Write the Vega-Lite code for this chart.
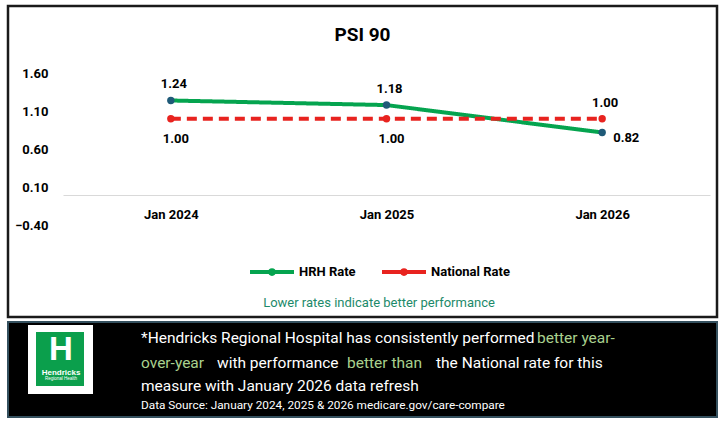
{
  "$schema": "https://vega.github.io/schema/vega-lite/v6.json",
  "padding": {"left": 6, "top": 4, "right": 0, "bottom": 0},
  "background": "white",
  "spacing": 2,
  "config": {
    "font": "Roboto, sans-serif"
  },
  "datasets": {
    "rates": [
      {"period": "Jan 2024", "series": "HRH Rate", "rate": 1.24},
      {"period": "Jan 2025", "series": "HRH Rate", "rate": 1.18},
      {"period": "Jan 2026", "series": "HRH Rate", "rate": 0.82},
      {"period": "Jan 2024", "series": "National Rate", "rate": 1.00},
      {"period": "Jan 2025", "series": "National Rate", "rate": 1.00},
      {"period": "Jan 2026", "series": "National Rate", "rate": 1.00}
    ],
    "logo": [
      {"part": "frame", "x1": 20, "x2": 85, "y1": 3, "y2": 72},
      {"part": "badge", "x1": 28, "x2": 76, "y1": 10, "y2": 64}
    ],
    "logotext": [
      {"text": "H", "x": 53, "y": 28, "kind": "big"},
      {"text": "Hendricks", "x": 53, "y": 51, "kind": "name"},
      {"text": "Regional Health", "x": 53, "y": 57, "kind": "sub"}
    ],
    "note": [
      {"text": "*Hendricks Regional Hospital  has consistently  performed", "x": 133, "y": 16, "tone": "plain", "kind": "main"},
      {"text": "better year-", "x": 529, "y": 16, "tone": "highlight", "kind": "main"},
      {"text": "over-year", "x": 133, "y": 41, "tone": "highlight", "kind": "main"},
      {"text": "with performance", "x": 209, "y": 41, "tone": "plain", "kind": "main"},
      {"text": "better  than", "x": 339, "y": 41, "tone": "highlight", "kind": "main"},
      {"text": "the National  rate for this", "x": 428, "y": 41, "tone": "plain", "kind": "main"},
      {"text": "measure with January 2026 data refresh", "x": 133, "y": 64, "tone": "plain", "kind": "main"},
      {"text": "Data Source: January 2024, 2025 & 2026 medicare.gov/care-compare", "x": 133, "y": 83, "tone": "plain", "kind": "source"}
    ]
  },
  "resolve": {"scale": {"color": "independent", "fill": "independent", "x": "independent", "y": "independent"}},
  "vconcat": [
    {
      "width": 709,
      "height": 311,
      "view": {"stroke": "#1a1a1a", "strokeWidth": 2.5},
      "title": {
        "text": "PSI 90",
        "orient": "top",
        "anchor": "middle",
        "frame": "group",
        "offset": -54,
        "baseline": "alphabetic",
        "fontSize": 19,
        "fontWeight": "bold",
        "color": "black"
      },
      "data": {"name": "rates"},
      "encoding": {
        "x": {
          "field": "period",
          "type": "ordinal",
          "scale": {"type": "point", "range": [55, 702], "padding": 0.5},
          "axis": {
            "title": null,
            "orient": "bottom",
            "offset": -122,
            "labelAngle": 0,
            "ticks": false,
            "tickSize": 0,
            "domainColor": "#d9d9d9",
            "domainWidth": 1,
            "labelPadding": 13,
            "labelFontSize": 13,
            "labelFontWeight": "bold",
            "labelColor": "black",
            "grid": false
          }
        },
        "y": {
          "field": "rate",
          "type": "quantitative",
          "scale": {"domain": [-1.601, 2.48], "nice": false, "zero": false},
          "axis": {
            "title": null,
            "orient": "left",
            "offset": -40,
            "values": [-0.4, 0.1, 0.6, 1.1, 1.6],
            "format": ".2f",
            "ticks": false,
            "tickSize": 0,
            "domain": false,
            "grid": false,
            "labelPadding": 0,
            "labelFontSize": 13,
            "labelFontWeight": "bold",
            "labelColor": "black"
          }
        }
      },
      "layer": [
        {
          "mark": {"type": "line", "strokeWidth": 4},
          "encoding": {
            "color": {
              "field": "series",
              "type": "nominal",
              "title": "Lower rates indicate better performance",
              "scale": {"domain": ["HRH Rate", "National Rate"], "range": ["#05a44f", "#e8231f"]},
              "legend": {
                "orient": "none",
                "legendX": 240,
                "legendY": 242,
                "direction": "horizontal",
                "titleOrient": "bottom",
                "titleAnchor": "middle",
                "titlePadding": 15,
                "titleColor": "#1d8a6a",
                "titleFontWeight": "normal",
                "titleFontSize": 13,
                "titleLimit": 400,
                "labelFontSize": 13,
                "labelFontWeight": "bold",
                "labelColor": "black",
                "labelOffset": 3,
                "columnPadding": 18,
                "symbolType": "M-1,0L1,0M-0.08,0A0.08,0.08,0,1,0,0.08,0A0.08,0.08,0,1,0,-0.08,0Z",
                "symbolSize": 1936,
                "symbolStrokeWidth": 4,
                "encode": {
                  "symbols": {
                    "update": {
                      "fill": {"signal": "datum.value === 'HRH Rate' ? '#1f5a78' : '#e8231f'"}
                    }
                  }
                }
              }
            },
            "strokeDash": {
              "field": "series",
              "type": "nominal",
              "title": "Lower rates indicate better performance",
              "scale": {"domain": ["HRH Rate", "National Rate"], "range": [[1, 0], [10, 6]]}
            }
          }
        },
        {
          "mark": {"type": "point", "filled": true, "size": 55, "opacity": 1},
          "encoding": {
            "fill": {
              "field": "series",
              "type": "nominal",
              "scale": {"domain": ["HRH Rate", "National Rate"], "range": ["#1f5a78", "#e8231f"]},
              "legend": null
            }
          }
        },
        {
          "transform": [{"filter": "(datum.series === 'HRH Rate' && datum.period !== 'Jan 2026') || (datum.series === 'National Rate' && datum.period === 'Jan 2026')"}],
          "mark": {"type": "text", "dy": -16, "dx": 3, "fontSize": 13, "fontWeight": "bold", "color": "black"},
          "encoding": {"text": {"field": "rate", "type": "quantitative", "format": ".2f"}}
        },
        {
          "transform": [{"filter": "datum.series === 'National Rate' && datum.period !== 'Jan 2026'"}],
          "mark": {"type": "text", "dy": 20, "dx": 5, "fontSize": 13, "fontWeight": "bold", "color": "black"},
          "encoding": {"text": {"field": "rate", "type": "quantitative", "format": ".2f"}}
        },
        {
          "transform": [{"filter": "datum.series === 'HRH Rate' && datum.period === 'Jan 2026'"}],
          "mark": {"type": "text", "align": "left", "dy": 5, "dx": 11, "fontSize": 13, "fontWeight": "bold", "color": "black"},
          "encoding": {"text": {"field": "rate", "type": "quantitative", "format": ".2f"}}
        }
      ]
    },
    {
      "width": 709,
      "height": 95,
      "view": {"fill": "black", "stroke": "#34505e", "strokeWidth": 2},
      "encoding": {
        "x": {"field": "x", "type": "quantitative", "scale": {"domain": [0, 709], "nice": false, "zero": false}, "axis": null},
        "y": {"field": "y", "type": "quantitative", "scale": {"domain": [0, 95], "nice": false, "zero": false, "reverse": true}, "axis": null}
      },
      "layer": [
        {
          "data": {"name": "logo"},
          "transform": [{"filter": "datum.part === 'frame'"}],
          "mark": {"type": "rect", "fill": "#ffffff"},
          "encoding": {
            "x": {"field": "x1", "type": "quantitative"},
            "x2": {"field": "x2"},
            "y": {"field": "y1", "type": "quantitative"},
            "y2": {"field": "y2"}
          }
        },
        {
          "data": {"name": "logo"},
          "transform": [{"filter": "datum.part === 'badge'"}],
          "mark": {"type": "rect", "fill": "#0b9f4c"},
          "encoding": {
            "x": {"field": "x1", "type": "quantitative"},
            "x2": {"field": "x2"},
            "y": {"field": "y1", "type": "quantitative"},
            "y2": {"field": "y2"}
          }
        },
        {
          "data": {"name": "logotext"},
          "transform": [{"filter": "datum.kind === 'big'"}],
          "mark": {"type": "text", "font": "Liberation Sans", "fontSize": 33, "fontWeight": "bold", "color": "white", "baseline": "middle"},
          "encoding": {"text": {"field": "text"}}
        },
        {
          "data": {"name": "logotext"},
          "transform": [{"filter": "datum.kind === 'name'"}],
          "mark": {"type": "text", "font": "Liberation Sans", "fontSize": 8, "fontWeight": "bold", "color": "white", "baseline": "middle"},
          "encoding": {"text": {"field": "text"}}
        },
        {
          "data": {"name": "logotext"},
          "transform": [{"filter": "datum.kind === 'sub'"}],
          "mark": {"type": "text", "font": "Liberation Sans", "fontSize": 4.5, "color": "white", "baseline": "middle"},
          "encoding": {"text": {"field": "text"}}
        },
        {
          "data": {"name": "note"},
          "transform": [{"filter": "datum.kind === 'main' && datum.tone === 'plain'"}],
          "mark": {"type": "text", "align": "left", "baseline": "middle", "fontSize": 15.5, "color": "#ffffff"},
          "encoding": {"text": {"field": "text"}}
        },
        {
          "data": {"name": "note"},
          "transform": [{"filter": "datum.kind === 'main' && datum.tone === 'highlight'"}],
          "mark": {"type": "text", "align": "left", "baseline": "middle", "fontSize": 15.5, "color": "#a9d18e"},
          "encoding": {"text": {"field": "text"}}
        },
        {
          "data": {"name": "note"},
          "transform": [{"filter": "datum.kind === 'source'"}],
          "mark": {"type": "text", "align": "left", "baseline": "middle", "fontSize": 11.8, "color": "white"},
          "encoding": {"text": {"field": "text"}}
        }
      ]
    }
  ]
}
